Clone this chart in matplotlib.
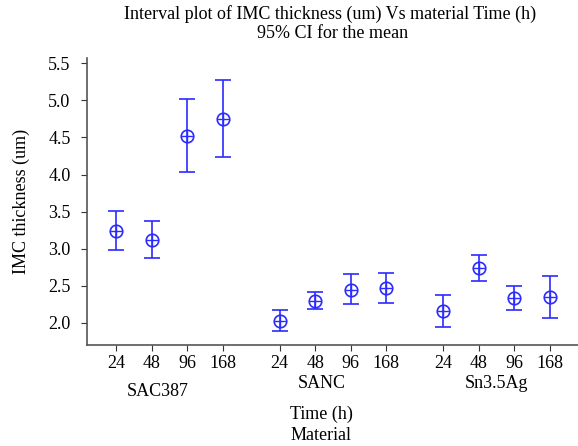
import numpy as np
import matplotlib
matplotlib.use("Agg")
import matplotlib.pyplot as plt

plt.rcParams["font.family"] = ["Liberation Serif", "DejaVu Serif"]
BLUE = "#2b2bff"

materials = ["SAC387", "SANC", "Sn3.5Ag"]
times = ["24", "48", "96", "168"]
means = [
    [3.24, 3.12, 4.52, 4.75],   # SAC387
    [2.03, 2.30, 2.45, 2.47],   # SANC
    [2.16, 2.74, 2.33, 2.35],   # Sn3.5Ag
]
ci_low = [
    [2.98, 2.88, 4.03, 4.23],
    [1.89, 2.19, 2.25, 2.27],
    [1.94, 2.57, 2.18, 2.07],
]
ci_high = [
    [3.51, 3.37, 5.02, 5.27],
    [2.18, 2.42, 2.66, 2.67],
    [2.38, 2.91, 2.50, 2.63],
]

fig = plt.figure(figsize=(5.78, 4.46), dpi=100)
ax = fig.add_axes([0.151, 0.226, 0.849, 0.644])

GAP = 4.6
xs, ticklabels = [], []
for g, mat in enumerate(materials):
    for i, t in enumerate(times):
        x = g * GAP + i
        m = means[g][i]
        lo, hi = ci_low[g][i], ci_high[g][i]
        ax.errorbar(x, m, yerr=[[m - lo], [hi - m]], fmt="none",
                    ecolor=BLUE, elinewidth=1.2, capsize=5.5, capthick=1.2)
        ax.plot(x, m, marker="o", ms=9, mfc="none", mec=BLUE, mew=1.2)
        ax.plot(x, m, marker="+", ms=9, color=BLUE, mew=1.0)
        xs.append(x)
        ticklabels.append(t)

FS = 13
ax.set_xticks(xs)
ax.set_xticklabels(ticklabels, fontsize=FS)
ax.set_xlim(-0.82, 13.0)
ax.set_ylim(1.7, 5.57)
yt = np.arange(2.0, 5.51, 0.5)
ax.set_yticks(yt)
ax.set_yticklabels([f"{v:.1f}" for v in yt], fontsize=FS)
ax.tick_params(axis="y", direction="out", length=4, color="#333333", pad=8)
ax.tick_params(axis="x", direction="out", length=4, color="#333333", pad=3)
for s in ["top", "right"]:
    ax.spines[s].set_visible(False)
for s in ["left", "bottom"]:
    ax.spines[s].set_color("#555555")
    ax.spines[s].set_linewidth(1.2)
ax.set_ylabel("IMC thickness (um)", fontsize=FS)
ax.yaxis.set_label_coords(-(87 - 30) / (0.849 * 578), 0.5)

# group labels
fig.text(158 / 578, 1 - 392 / 446, "SAC387", ha="center", va="center", fontsize=FS)
fig.text(322 / 578, 1 - 383 / 446, "SANC", ha="center", va="center", fontsize=FS)
fig.text(497 / 578, 1 - 383 / 446, "Sn3.5Ag", ha="center", va="center", fontsize=FS)
fig.text(321 / 578, 1 - 414 / 446, "Time (h)", ha="center", va="center", fontsize=FS)
fig.text(321 / 578, 1 - 436 / 446, "Material", ha="center", va="center", fontsize=FS)

fig.text(330 / 578, 1 - 14 / 446, "Interval plot of IMC thickness (um) Vs material Time (h)",
         ha="center", va="center", fontsize=FS)
fig.text(333 / 578, 1 - 34 / 446, "95% CI for the mean",
         ha="center", va="center", fontsize=FS)

fig.savefig("out.png", dpi=100)
